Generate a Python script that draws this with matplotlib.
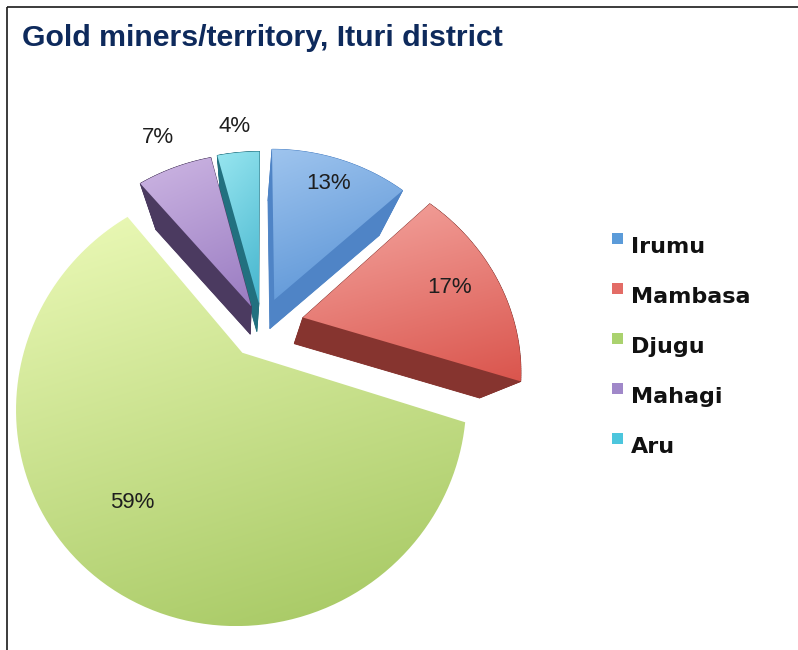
"""Gold miners per territory, Ituri district - exploded 3D-style pie."""

import numpy as np
import matplotlib.pyplot as plt
from matplotlib.patches import Polygon, Rectangle
from matplotlib.colors import to_rgb

territories = ["Irumu", "Mambasa", "Djugu", "Mahagi", "Aru"]
shares = [13, 17, 59, 7, 4]
pct_labels = ["13%", "17%", "59%", "7%", "4%"]

face_top = ["#9EC4EE", "#F4A6A0", "#ECFAB8", "#CDB6E3", "#98E6F0"]
face_bottom = ["#5590D4", "#DA554D", "#A3C65F", "#9A7CC2", "#45B5CE"]
wall_colors = ["#4F84C6", "#86342F", "#7F9A46", "#4B3A60", "#22707F"]
legend_colors = ["#5B9BD9", "#E36C66", "#AAD26E", "#A088C9", "#4CC6DD"]

explode = [0.15, 0.2, 0.16, 0.115, 0.12]
label_r = [0.8, 0.75, 0.74, 1.27, 1.22]

# perspective set-up (pixels)
CX, CY = 262, 326
A, B, K = 212, 196, 0.23
FOCUS = np.array([245.0, 492.0])
DEPTH = 0.85


def project(u, v):
    w = 1 + K * v
    return np.column_stack([CX + A * u / w, CY - B * v / w])


fig = plt.figure(figsize=(7.98, 6.5), dpi=100)
ax = fig.add_axes([0, 0, 1, 1])

total = sum(shares)
bounds = 90 - 360 * np.concatenate([[0], np.cumsum(shares)]) / total

slices = {}
for i, name in enumerate(territories):
    t1, t2 = bounds[i], bounds[i + 1]
    mid = np.radians((t1 + t2) / 2)
    ex, ey = explode[i] * np.cos(mid), explode[i] * np.sin(mid)
    th = np.radians(np.linspace(t1, t2, 120))
    u = np.concatenate([[ex], ex + np.cos(th)])
    v = np.concatenate([[ey], ey + np.sin(th)])
    top = project(u, v)
    lab = project(np.array([ex + label_r[i] * np.cos(mid)]),
                  np.array([ey + label_r[i] * np.sin(mid)]))[0]
    slices[i] = (top, lab)

draw_order = [0, 4, 3, 1, 2]
for i in draw_order:
    top, lab = slices[i]
    # side walls: bottom face pulled toward the focus point
    bot = FOCUS + DEPTH * (top - FOCUS)
    n = len(top)
    if i != 2:
        for j in range(n):
            k = (j + 1) % n
            quad = [top[j], top[k], bot[k], bot[j]]
            ax.add_patch(Polygon(quad, closed=True, facecolor=wall_colors[i],
                                 edgecolor=wall_colors[i], lw=0.6))
        ax.add_patch(Polygon(bot, closed=True, facecolor=wall_colors[i],
                             edgecolor="none"))

    # top face with gradient
    x0, y0 = top.min(axis=0)
    x1, y1 = top.max(axis=0)
    gx, gy = np.meshgrid(np.linspace(0, 1, 120), np.linspace(0, 1, 120))
    t = np.clip(0.75 * gy + 0.25 * gx, 0, 1)[..., None]
    img = (1 - t) * np.array(to_rgb(face_top[i])) + t * np.array(to_rgb(face_bottom[i]))
    face = Polygon(top, closed=True, facecolor="none", edgecolor="none")
    ax.add_patch(face)
    im = ax.imshow(img, extent=(x0, x1, y1, y0), origin="upper",
                   aspect="auto", interpolation="bilinear", zorder=1)
    im.set_clip_path(face)

for i in range(len(territories)):
    lab = slices[i][1]
    ax.text(lab[0], lab[1], pct_labels[i], ha="center", va="center",
            fontsize=16, color="#1E1E1E", family=["Liberation Sans", "DejaVu Sans"],
            zorder=5)

# legend
for i, name in enumerate(territories):
    base = 253 + 50 * i
    ax.add_patch(Rectangle((612, base - 20), 11, 11, facecolor=legend_colors[i],
                           edgecolor="none", zorder=5))
    ax.text(631, base, name, ha="left", va="baseline", fontsize=16,
            fontweight="bold", color="#111111", family="DejaVu Sans", zorder=5)

# title
ax.text(22, 46, "Gold miners/territory, Ituri district", ha="left", va="baseline",
        fontsize=21.8, fontweight="bold", color="#0E2A5C",
        family=["Liberation Sans", "DejaVu Sans"])

# frame (top and left edges)
ax.plot([6.5, 798], [6.5, 6.5], color="#1A1A1A", lw=1.2, solid_capstyle="butt")
ax.plot([6.5, 6.5], [6.5, 650], color="#1A1A1A", lw=1.2, solid_capstyle="butt")

ax.set_xlim(0, 798)
ax.set_ylim(650, 0)
ax.axis("off")

fig.savefig("out.png", dpi=100)
plt.close(fig)
